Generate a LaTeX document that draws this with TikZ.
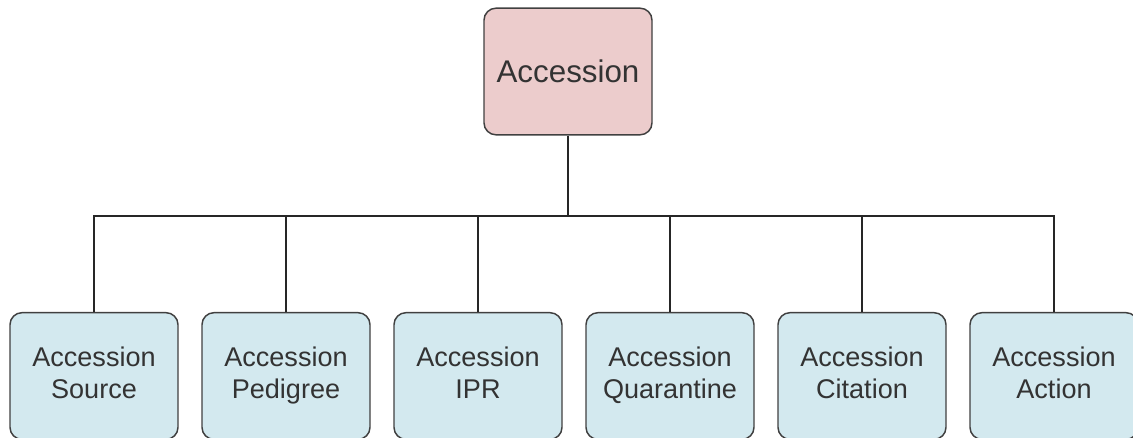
\documentclass[tikz,border=0pt]{standalone}
\usepackage{fontspec}
\setmainfont{Liberation Sans}
\usepackage{tikz}

\definecolor{rootfill}{RGB}{236,204,204}
\definecolor{childfill}{RGB}{211,233,239}
\definecolor{edgegray}{RGB}{64,64,64}

\begin{document}
\begin{tikzpicture}[x=0.75pt,y=-0.75pt,
  box/.style={draw=edgegray,line width=1.1pt,rounded corners=9pt,
    minimum width=126pt,minimum height=95pt,align=center,text=black!80},
  rootbox/.style={box,fill=rootfill,font=\fontsize{23.5}{28}\selectfont},
  childbox/.style={box,fill=childfill,font=\fontsize{20.3}{24}\selectfont},
  link/.style={draw=black!85,line width=1.1pt}]
  \useasboundingbox (0,0) rectangle (1133,437);
  % \draw[thin,gray!40] (0,0) grid[step=50] (1133,437);
  \node[rootbox] (acc) at (568,71.5) {Accession};
  \coordinate (bus) at (568,216);
  \foreach \name/\txt [count=\i from 0] in {src/Source,ped/Pedigree,ipr/IPR,
      qua/Quarantine,cit/Citation,act/Action}
    \node[childbox] (\name) at (94+192*\i,376) {Accession\strut\\\txt\strut};
  \draw[link] (acc.south) -- (bus);
  \draw[link] (src.north) |- (bus) -| (act.north);
  \foreach \name in {ped,ipr,qua,cit}
    \draw[link] (\name.north) -- (\name.north |- bus);
\end{tikzpicture}
\end{document}
